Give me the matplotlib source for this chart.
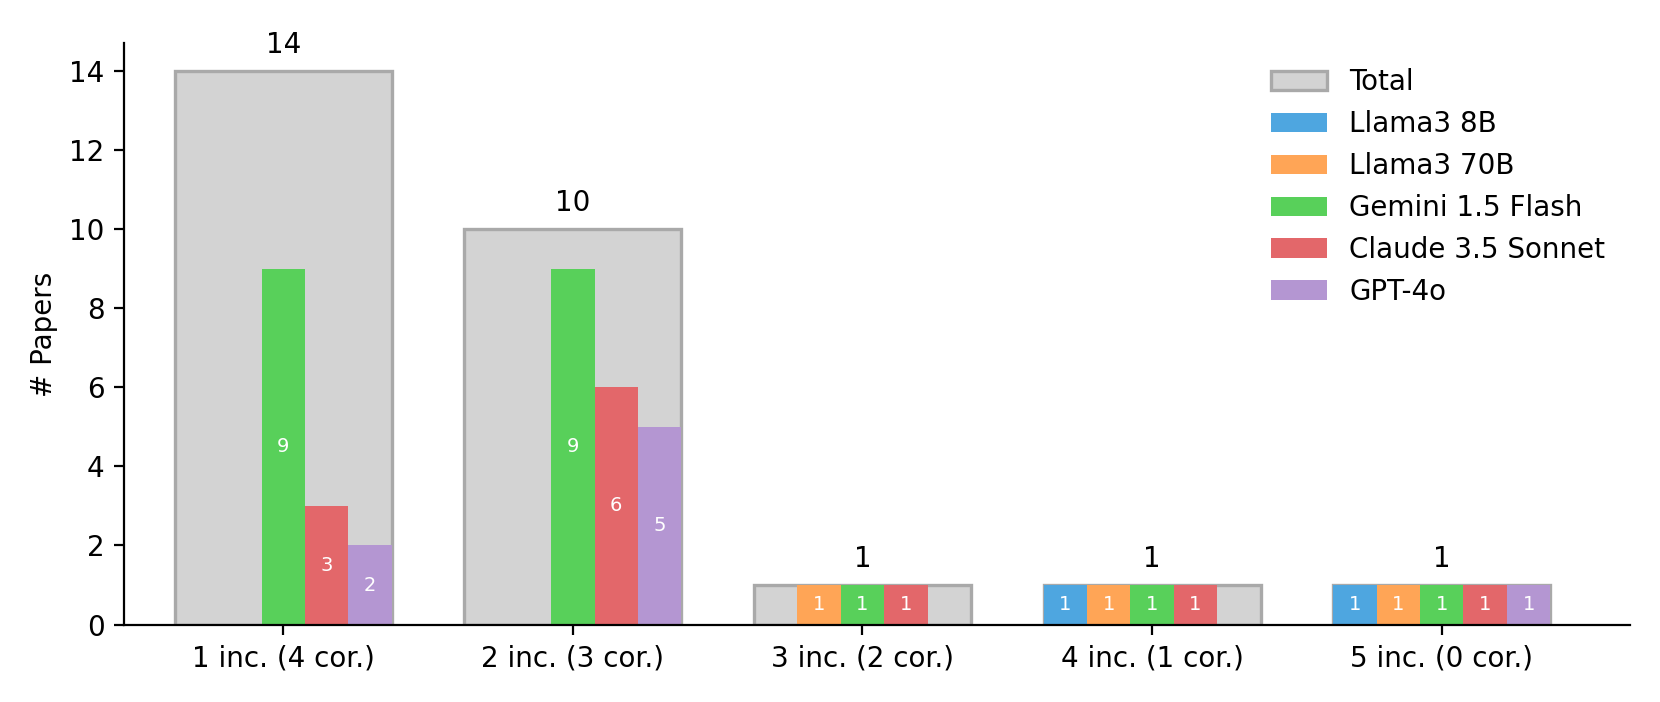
import matplotlib
matplotlib.use("Agg")
import matplotlib.pyplot as plt
from matplotlib.patches import Patch
import numpy as np

categories = ["1 inc. (4 cor.)", "2 inc. (3 cor.)", "3 inc. (2 cor.)", "4 inc. (1 cor.)", "5 inc. (0 cor.)"]
total = [14, 10, 1, 1, 1]
models = ["Llama3 8B", "Llama3 70B", "Gemini 1.5 Flash", "Claude 3.5 Sonnet", "GPT-4o"]
llama8 = [0, 0, 0, 1, 1]
llama70 = [0, 0, 1, 1, 1]
gemini = [9, 9, 1, 1, 1]
claude = [3, 6, 1, 1, 1]
gpt4o = [2, 5, 0, 0, 1]
series = [llama8, llama70, gemini, claude, gpt4o]
colors = ["#4ea6e0", "#ffa556", "#58d05a", "#e3676a", "#b496d2"]

fig, ax = plt.subplots(figsize=(8.3, 3.51), dpi=200)
x = np.arange(len(categories))
ax.bar(x, total, width=0.75, color="#d3d3d3", edgecolor="#a9a9a9", linewidth=1.2, zorder=1)
for xi, t in zip(x, total):
    ax.text(xi, t + 0.3, str(t), ha="center", va="bottom", fontsize=10)
w = 0.15
handles = [Patch(facecolor="#d3d3d3", edgecolor="#a9a9a9", linewidth=1.2, label="Total")]
for i, (name, vals, c) in enumerate(zip(models, series, colors)):
    off = (i - 2) * w
    handles.append(Patch(facecolor=c, label=name))
    for xi, v in zip(x, vals):
        if v > 0:
            ax.bar(xi + off, v, width=w, color=c, zorder=2)
            ax.text(xi + off, v / 2, str(v), ha="center", va="center", color="white", fontsize=7, zorder=3)
ax.set_xticks(x)
ax.set_xticklabels(categories)
ax.set_ylabel("# Papers")
ax.set_ylim(0, 14.7)
ax.set_xlim(-0.55, 4.65)
ax.spines["top"].set_visible(False)
ax.spines["right"].set_visible(False)
ax.legend(handles=handles, frameon=False, loc="upper right")
plt.tight_layout()
plt.savefig("out.png", dpi=200)
